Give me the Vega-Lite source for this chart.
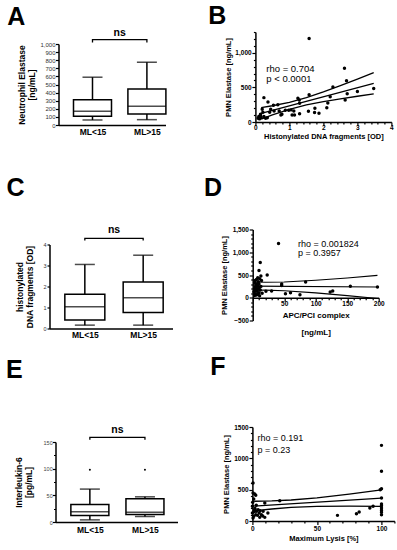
{
"$schema": "https://vega.github.io/schema/vega-lite/v6.json",
"padding": {"left": 5.5, "top": 4, "right": 2, "bottom": 2},
"background": "white",
"config": {
  "font": "Liberation Sans",
  "view": {"stroke": null},
  "axis": {"domainColor": "black", "domainWidth": 1.5, "tickColor": "black", "tickWidth": 1.2, "labelColor": "black", "titleColor": "black", "labelFont": "Liberation Sans", "titleFont": "Liberation Sans", "grid": false, "labelOverlap": false, "labelBound": false, "labelFlush": false, "tickCount": 100},
  "title": {"font": "Liberation Sans", "fontSize": 25, "fontWeight": "bold", "anchor": "start", "frame": "group", "color": "black"}
},
"datasets": {
  "boxA": [
    {"group": "ML<15", "pos": 1, "min": 62, "q1": 107, "median": 169, "q3": 313, "max": 590},
    {"group": "ML>15", "pos": 2, "min": 66, "q1": 136, "median": 230, "q3": 444, "max": 775}
  ],
  "bracketA": [
    {"pos": 1, "v": 1020, "o": 1}, {"pos": 1, "v": 1053, "o": 2}, {"pos": 2, "v": 1053, "o": 3}, {"pos": 2, "v": 1020, "o": 4}
  ],
  "boxC": [
    {"group": "ML<15", "pos": 1, "min": 0.16, "q1": 0.40, "median": 1.03, "q3": 1.63, "max": 3.05},
    {"group": "ML>15", "pos": 2, "min": 0.16, "q1": 0.76, "median": 1.46, "q3": 2.22, "max": 3.49}
  ],
  "bracketC": [
    {"pos": 1, "v": 4.19, "o": 1}, {"pos": 1, "v": 4.29, "o": 2}, {"pos": 2, "v": 4.29, "o": 3}, {"pos": 2, "v": 4.19, "o": 4}
  ],
  "boxE": [
    {"group": "ML<15", "pos": 1, "min": 4, "q1": 12, "median": 19.4, "q3": 32.7, "max": 61.7},
    {"group": "ML>15", "pos": 2, "min": 10.3, "q1": 13.9, "median": 18.1, "q3": 43.6, "max": 47.2}
  ],
  "outE": [{"pos": 1, "v": 98}, {"pos": 2, "v": 98}],
  "bracketE": [
    {"pos": 1, "v": 154, "o": 1}, {"pos": 1, "v": 158.5, "o": 2}, {"pos": 2, "v": 158.5, "o": 3}, {"pos": 2, "v": 154, "o": 4}
  ],
  "ptsB": [
    {"x": 1.58, "y": 1205}, {"x": 2.62, "y": 775}, {"x": 2.68, "y": 595}, {"x": 0.25, "y": 352}, {"x": 0.37, "y": 290},
    {"x": 1.25, "y": 343}, {"x": 1.29, "y": 318}, {"x": 1.58, "y": 395}, {"x": 2.28, "y": 505}, {"x": 2.2, "y": 365},
    {"x": 2.7, "y": 408}, {"x": 3.0, "y": 440}, {"x": 3.48, "y": 485}, {"x": 2.64, "y": 318}, {"x": 2.13, "y": 275},
    {"x": 2.1, "y": 205}, {"x": 1.75, "y": 200}, {"x": 1.87, "y": 125}, {"x": 1.74, "y": 138}, {"x": 1.56, "y": 155},
    {"x": 1.3, "y": 120}, {"x": 1.3, "y": 272}, {"x": 1.08, "y": 100}, {"x": 0.98, "y": 170}, {"x": 0.88, "y": 170},
    {"x": 0.78, "y": 112}, {"x": 0.66, "y": 250}, {"x": 0.53, "y": 243}, {"x": 0.45, "y": 185}, {"x": 0.42, "y": 140},
    {"x": 0.55, "y": 160}, {"x": 0.2, "y": 185}, {"x": 0.15, "y": 112}, {"x": 0.1, "y": 80}, {"x": 0.17, "y": 65},
    {"x": 0.12, "y": 45}, {"x": 0.25, "y": 80}, {"x": 0.08, "y": 55}, {"x": 0.3, "y": 55}, {"x": 1.13, "y": 160},
    {"x": 0.7, "y": 160}, {"x": 1.05, "y": 175}, {"x": 1.15, "y": 100}, {"x": 0.15, "y": 100}, {"x": 0.22, "y": 140},
    {"x": 0.35, "y": 60}, {"x": 0.75, "y": 100}
  ],
  "fitB": [
    {"curve": "upper", "x": 0.17, "y": 207}, {"curve": "upper", "x": 0.5, "y": 234.8}, {"curve": "upper", "x": 1.0, "y": 284.9}, {"curve": "upper", "x": 1.5, "y": 352.5}, {"curve": "upper", "x": 2.0, "y": 436.0}, {"curve": "upper", "x": 2.5, "y": 526.9}, {"curve": "upper", "x": 3.0, "y": 620.8}, {"curve": "upper", "x": 3.48, "y": 712.3},
    {"curve": "fit", "x": 0.17, "y": 125}, {"curve": "fit", "x": 3.48, "y": 559.3},
    {"curve": "lower", "x": 0.17, "y": 43}, {"curve": "lower", "x": 0.5, "y": 101.8}, {"curve": "lower", "x": 1.0, "y": 182.9}, {"curve": "lower", "x": 1.5, "y": 246.5}, {"curve": "lower", "x": 2.0, "y": 294.2}, {"curve": "lower", "x": 2.5, "y": 334.5}, {"curve": "lower", "x": 3.0, "y": 371.8}, {"curve": "lower", "x": 3.48, "y": 406.3}
  ],
  "ptsD": [
    {"x": 2, "y": 130}, {"x": 3, "y": 50}, {"x": 3, "y": 200}, {"x": 3, "y": 330}, {"x": 4, "y": 90}, {"x": 4, "y": 240}, {"x": 4, "y": 380},
    {"x": 5, "y": 160}, {"x": 5, "y": 290}, {"x": 6, "y": 60}, {"x": 6, "y": 210}, {"x": 6, "y": 400}, {"x": 7, "y": 140}, {"x": 7, "y": 310},
    {"x": 8, "y": 75}, {"x": 8, "y": 260}, {"x": 8, "y": 440}, {"x": 9, "y": 190}, {"x": 9, "y": 350}, {"x": 10, "y": 110}, {"x": 10, "y": 300},
    {"x": 10, "y": 600}, {"x": 11, "y": 45}, {"x": 11, "y": 230}, {"x": 11, "y": 420}, {"x": 12, "y": 170}, {"x": 12, "y": 775}, {"x": 13, "y": 250},
    {"x": 13, "y": 480}, {"x": 14, "y": 380}, {"x": 15, "y": 100}, {"x": 23, "y": 500}, {"x": 41, "y": 1190}, {"x": 21, "y": 145}, {"x": 30, "y": 150},
    {"x": 46, "y": 304}, {"x": 46, "y": 270}, {"x": 84, "y": 348}, {"x": 52, "y": 87}, {"x": 60, "y": 109}, {"x": 75, "y": 65}, {"x": 123, "y": 125},
    {"x": 127, "y": 148}, {"x": 155, "y": 255}, {"x": 198, "y": 237}
  ],
  "fitD": [
    {"curve": "upper", "x": 2, "y": 344.8}, {"curve": "upper", "x": 20, "y": 339.9}, {"curve": "upper", "x": 50, "y": 346.1}, {"curve": "upper", "x": 100, "y": 384.3}, {"curve": "upper", "x": 150, "y": 435.5}, {"curve": "upper", "x": 198, "y": 492.2},
    {"curve": "fit", "x": 2, "y": 254.8}, {"curve": "fit", "x": 198, "y": 237.2},
    {"curve": "lower", "x": 2, "y": 164.8}, {"curve": "lower", "x": 20, "y": 166.5}, {"curve": "lower", "x": 50, "y": 154.9}, {"curve": "lower", "x": 100, "y": 107.7}, {"curve": "lower", "x": 150, "y": 47.5}, {"curve": "lower", "x": 198, "y": -17.8}
  ],
  "ptsF": [
    {"x": 100, "y": 1207}, {"x": 100, "y": 793}, {"x": 100, "y": 516}, {"x": 99, "y": 500}, {"x": 100, "y": 367}, {"x": 100, "y": 271}, {"x": 100, "y": 245},
    {"x": 100, "y": 207}, {"x": 100, "y": 170}, {"x": 100, "y": 138}, {"x": 100, "y": 101}, {"x": 93.5, "y": 234}, {"x": 91, "y": 207}, {"x": 82.7, "y": 144},
    {"x": 80.6, "y": 117}, {"x": 65.9, "y": 90}, {"x": 21.2, "y": 324}, {"x": 9.6, "y": 287}, {"x": 0.5, "y": 606}, {"x": 1, "y": 351}, {"x": 0.5, "y": 447},
    {"x": 1.8, "y": 431}, {"x": 2.6, "y": 410}, {"x": 0, "y": 234}, {"x": 1.8, "y": 181}, {"x": 3.1, "y": 154}, {"x": 4.4, "y": 181}, {"x": 5.2, "y": 128},
    {"x": 7, "y": 101}, {"x": 8.3, "y": 154}, {"x": 9.6, "y": 58}, {"x": 5.7, "y": 58}, {"x": 2.6, "y": 101}, {"x": 1, "y": 74}, {"x": 12, "y": 128},
    {"x": 0.5, "y": 48}, {"x": 0, "y": 128}, {"x": 3, "y": 250}, {"x": 0.3, "y": 300}, {"x": 2, "y": 200}, {"x": 6, "y": 165}, {"x": 4, "y": 90},
    {"x": 8, "y": 80}, {"x": 1.5, "y": 150}
  ],
  "fitF": [
    {"curve": "upper", "x": 0, "y": 315}, {"curve": "upper", "x": 15, "y": 320.8}, {"curve": "upper", "x": 30, "y": 334.8}, {"curve": "upper", "x": 50, "y": 369.3}, {"curve": "upper", "x": 75, "y": 429.3}, {"curve": "upper", "x": 100, "y": 497},
    {"curve": "fit", "x": 0, "y": 237}, {"curve": "fit", "x": 100, "y": 365},
    {"curve": "lower", "x": 0, "y": 159}, {"curve": "lower", "x": 15, "y": 191.6}, {"curve": "lower", "x": 30, "y": 216}, {"curve": "lower", "x": 50, "y": 232.7}, {"curve": "lower", "x": 75, "y": 236.7}, {"curve": "lower", "x": 100, "y": 233}
  ]
},
"vconcat": [
  {"vconcat": [
    {"hconcat": [
      {
        "title": {"text": "A", "dx": -42.3, "offset": -2.25},
        "width": 116, "height": 93,
        "layer": [
          {"data": {"name": "boxA"}, "mark": {"type": "rule", "strokeWidth": 1.5, "color": "black"},
           "encoding": {
             "x": {"field": "pos", "type": "quantitative", "scale": {"domain": [0.467, 2.25], "range": [9, 116], "nice": false, "zero": false},
                   "axis": {"values": [1, 2], "tickCount": 100, "labelExpr": "datum.value == 1 ? 'ML<15' : 'ML>15'", "ticks": false, "labelFontSize": 8.5, "labelFontWeight": "bold", "labelPadding": 2.5, "labelOverlap": false, "title": null}},
             "y": {"field": "min", "type": "quantitative", "scale": {"domain": [0, 1000], "range": [93, 12], "nice": false, "zero": false},
                   "axis": {"offset": -9, "values": [0, 100, 200, 300, 400, 500, 600, 700, 800, 900, 1000], "tickCount": 100, "format": ",d", "labelFontSize": 6, "labelColor": "#333", "tickSize": 3, "labelPadding": 0.5, "labelOverlap": false, "title": ["Neutrophil Elastase", "[ng/mL]"], "titleFontSize": 8.5, "titleFontWeight": "bold", "titlePadding": 3, "titleLineHeight": 10.5}},
             "y2": {"field": "max"}}},
          {"data": {"name": "boxA"}, "mark": {"type": "tick", "orient": "horizontal", "size": 20, "thickness": 1.5, "color": "black"},
           "encoding": {"x": {"field": "pos", "type": "quantitative"}, "y": {"field": "min", "type": "quantitative"}}},
          {"data": {"name": "boxA"}, "mark": {"type": "tick", "orient": "horizontal", "size": 20, "thickness": 1.5, "color": "black"},
           "encoding": {"x": {"field": "pos", "type": "quantitative"}, "y": {"field": "max", "type": "quantitative"}}},
          {"data": {"name": "boxA"}, "mark": {"type": "bar", "orient": "vertical", "width": 38, "fill": "white", "stroke": "black", "strokeWidth": 1.5},
           "encoding": {"x": {"field": "pos", "type": "quantitative"}, "y": {"field": "q1", "type": "quantitative"}, "y2": {"field": "q3"}}},
          {"data": {"name": "boxA"}, "mark": {"type": "tick", "orient": "horizontal", "size": 38, "thickness": 1.5, "color": "black"},
           "encoding": {"x": {"field": "pos", "type": "quantitative"}, "y": {"field": "median", "type": "quantitative"}}},
          {"data": {"name": "bracketA"}, "mark": {"type": "line", "color": "black", "strokeWidth": 1.3},
           "encoding": {"x": {"field": "pos", "type": "quantitative"}, "y": {"field": "v", "type": "quantitative"}, "order": {"field": "o"}}},
          {"data": {"values": [{"pos": 1.5, "v": 1140, "label": "ns"}]}, "mark": {"type": "text", "fontSize": 10.5, "fontWeight": "bold", "baseline": "middle"},
           "encoding": {"x": {"field": "pos", "type": "quantitative"}, "y": {"field": "v", "type": "quantitative"}, "text": {"field": "label"}}}
        ]
      },
      {
        "title": {"text": "B", "dx": -47.1, "offset": -0.25},
        "width": 136, "height": 90,
        "layer": [
          {"data": {"name": "ptsB"}, "mark": {"type": "circle", "size": 12, "color": "black", "opacity": 1},
           "encoding": {
             "x": {"field": "x", "type": "quantitative", "scale": {"domain": [0, 4], "nice": false, "zero": false},
                   "axis": {"values": [0, 0.2, 0.4, 0.6, 0.8, 1, 1.2, 1.4, 1.6, 1.8, 2, 2.2, 2.4, 2.6, 2.8, 3, 3.2, 3.4, 3.6, 3.8, 4], "tickCount": 100, "labelExpr": "datum.value % 1 == 0 ? format(datum.value, 'd') : ''", "tickSize": {"condition": {"test": "datum.value % 1 == 0", "value": 3.5}, "value": 2}, "labelFontSize": 6.5, "labelFontWeight": "bold", "labelPadding": -1.5, "labelOverlap": false, "title": "Histonylated DNA fragments [OD]", "titleFontSize": 7.5, "titleFontWeight": "bold", "titlePadding": 1.75}},
             "y": {"field": "y", "type": "quantitative", "scale": {"domain": [0, 1300], "nice": false, "zero": false},
                   "axis": {"values": [0, 100, 200, 300, 400, 500, 600, 700, 800, 900, 1000, 1100, 1200, 1300], "tickCount": 100, "labelExpr": "datum.value % 500 == 0 ? format(datum.value, ',d') : ''", "tickSize": {"condition": {"test": "datum.value % 500 == 0", "value": 3.5}, "value": 2}, "labelFontSize": 6.5, "labelFontWeight": "bold", "labelPadding": 0.75, "labelOverlap": false, "title": "PMN Elastase [ng/mL]", "titleFontSize": 7.5, "titleFontWeight": "bold", "titlePadding": 2}}}},
          {"data": {"name": "fitB"}, "mark": {"type": "line", "color": "black", "strokeWidth": 1.3},
           "encoding": {"x": {"field": "x", "type": "quantitative"}, "y": {"field": "y", "type": "quantitative"}, "detail": {"field": "curve"}}},
          {"data": {"values": [{"x": 0.32, "y": 770, "label": "rho = 0.704"}, {"x": 0.32, "y": 623, "label": "p < 0.0001"}]},
           "mark": {"type": "text", "align": "left", "baseline": "middle", "fontSize": 9.5},
           "encoding": {"x": {"field": "x", "type": "quantitative"}, "y": {"field": "y", "type": "quantitative"}, "text": {"field": "label"}}}
        ]
      }
    ], "spacing": 39.9},
    {"hconcat": [
      {
        "title": {"text": "C", "dx": -42.9, "offset": 24.5},
        "width": 123, "height": 99,
        "layer": [
          {"data": {"name": "boxC"}, "mark": {"type": "rule", "strokeWidth": 1.5, "color": "black"},
           "encoding": {
             "x": {"field": "pos", "type": "quantitative", "scale": {"domain": [0.48, 2.417], "nice": false, "zero": false},
                   "axis": {"values": [1, 2], "tickCount": 100, "labelExpr": "datum.value == 1 ? 'ML<15' : 'ML>15'", "ticks": false, "labelFontSize": 8.5, "labelFontWeight": "bold", "labelPadding": 1.5, "labelOverlap": false, "title": null}},
             "y": {"field": "min", "type": "quantitative", "scale": {"domain": [0, 4], "range": [99, 15], "nice": false, "zero": false},
                   "axis": {"values": [0, 1, 2, 3, 4], "tickCount": 100, "format": "d", "labelFontSize": 5.5, "labelColor": "#333", "tickSize": 2.5, "labelPadding": 1, "labelOverlap": false, "title": ["histonylated", "DNA fragments [OD]"], "titleFontSize": 8.5, "titleFontWeight": "bold", "titlePadding": 8, "titleLineHeight": 10}},
             "y2": {"field": "max"}}},
          {"data": {"name": "boxC"}, "mark": {"type": "tick", "orient": "horizontal", "size": 20, "thickness": 1.5, "color": "black"},
           "encoding": {"x": {"field": "pos", "type": "quantitative"}, "y": {"field": "min", "type": "quantitative"}}},
          {"data": {"name": "boxC"}, "mark": {"type": "tick", "orient": "horizontal", "size": 20, "thickness": 1.5, "color": "black"},
           "encoding": {"x": {"field": "pos", "type": "quantitative"}, "y": {"field": "max", "type": "quantitative"}}},
          {"data": {"name": "boxC"}, "mark": {"type": "bar", "orient": "vertical", "width": 40, "fill": "white", "stroke": "black", "strokeWidth": 1.5},
           "encoding": {"x": {"field": "pos", "type": "quantitative"}, "y": {"field": "q1", "type": "quantitative"}, "y2": {"field": "q3"}}},
          {"data": {"name": "boxC"}, "mark": {"type": "tick", "orient": "horizontal", "size": 40, "thickness": 1.5, "color": "black"},
           "encoding": {"x": {"field": "pos", "type": "quantitative"}, "y": {"field": "median", "type": "quantitative"}}},
          {"data": {"name": "bracketC"}, "mark": {"type": "line", "color": "black", "strokeWidth": 1.3},
           "encoding": {"x": {"field": "pos", "type": "quantitative"}, "y": {"field": "v", "type": "quantitative"}, "order": {"field": "o"}}},
          {"data": {"values": [{"pos": 1.5, "v": 4.68, "label": "ns"}]}, "mark": {"type": "text", "fontSize": 10.5, "fontWeight": "bold", "baseline": "middle"},
           "encoding": {"x": {"field": "pos", "type": "quantitative"}, "y": {"field": "v", "type": "quantitative"}, "text": {"field": "label"}}}
        ]
      },
      {
        "title": {"text": "D", "dx": -48.8, "offset": 25.75},
        "width": 126, "height": 91,
        "layer": [
          {"data": {"name": "ptsD"}, "mark": {"type": "circle", "size": 12, "color": "black", "opacity": 1},
           "encoding": {
             "x": {"field": "x", "type": "quantitative", "scale": {"domain": [0, 200], "nice": false, "zero": false},
                   "axis": {"offset": -22.75, "values": [0, 10, 20, 30, 40, 50, 60, 70, 80, 90, 100, 110, 120, 130, 140, 150, 160, 170, 180, 190, 200], "tickCount": 100, "labelExpr": "datum.value % 50 == 0 && datum.value > 0 ? format(datum.value, 'd') : ''", "tickSize": {"condition": {"test": "datum.value % 50 == 0", "value": 3.5}, "value": 2}, "labelFontSize": 6.5, "labelFontWeight": "bold", "labelPadding": -0.35, "labelOverlap": false, "title": ["APC/PCI complex", "[ng/mL]"], "titleFontSize": 8, "titleFontWeight": "bold", "titlePadding": 3.8, "titleLineHeight": 17.8}},
             "y": {"field": "y", "type": "quantitative", "scale": {"domain": [-500, 1500], "nice": false, "zero": false},
                   "axis": {"values": [-500, -400, -300, -200, -100, 0, 100, 200, 300, 400, 500, 600, 700, 800, 900, 1000, 1100, 1200, 1300, 1400, 1500], "tickCount": 100, "labelExpr": "datum.value % 500 == 0 ? format(datum.value, ',d') : ''", "tickSize": {"condition": {"test": "datum.value % 500 == 0", "value": 3.5}, "value": 2}, "labelFontSize": 6.5, "labelFontWeight": "bold", "labelPadding": 0.75, "labelOverlap": false, "title": "PMN Elastase [ng/mL]", "titleFontSize": 7.5, "titleFontWeight": "bold", "titlePadding": 3.3}}}},
          {"data": {"name": "fitD"}, "mark": {"type": "line", "color": "black", "strokeWidth": 1.1},
           "encoding": {"x": {"field": "x", "type": "quantitative"}, "y": {"field": "y", "type": "quantitative"}, "detail": {"field": "curve"}}},
          {"data": {"values": [{"x": 72, "y": 1188, "label": "rho = 0.001824"}, {"x": 72, "y": 993, "label": "p = 0.3957"}]},
           "mark": {"type": "text", "align": "left", "baseline": "middle", "fontSize": 9},
           "encoding": {"x": {"field": "x", "type": "quantitative"}, "y": {"field": "y", "type": "quantitative"}, "text": {"field": "label"}}}
        ]
      }
    ], "spacing": 31.2}
  ], "spacing": 35.5},
  {"hconcat": [
    {
      "title": {"text": "E", "dx": -43.5, "offset": 42.75},
      "width": 128, "height": 95,
      "layer": [
        {"data": {"name": "boxE"}, "mark": {"type": "rule", "strokeWidth": 1.5, "color": "black"},
         "encoding": {
           "x": {"field": "pos", "type": "quantitative", "scale": {"domain": [0.467, 2.5], "range": [6, 128], "nice": false, "zero": false},
                 "axis": {"values": [1, 2], "tickCount": 100, "labelExpr": "datum.value == 1 ? 'ML<15' : 'ML>15'", "ticks": false, "labelFontSize": 8.5, "labelFontWeight": "bold", "labelPadding": 3.5, "labelOverlap": false, "title": null}},
           "y": {"field": "min", "type": "quantitative", "scale": {"domain": [0, 150], "range": [95, 15], "nice": false, "zero": false},
                 "axis": {"offset": -6, "values": [0, 25, 50, 75, 100, 125, 150], "tickCount": 100, "labelExpr": "datum.value % 50 == 0 ? format(datum.value, 'd') : ''", "tickSize": {"condition": {"test": "datum.value % 50 == 0", "value": 3}, "value": 2}, "labelFontSize": 5.5, "labelColor": "#444", "labelPadding": 0.3, "labelOverlap": false, "title": ["Interleukin-6", "[pg/mL]"], "titleFontSize": 8.5, "titleFontWeight": "bold", "titlePadding": 9.5, "titleLineHeight": 10}},
           "y2": {"field": "max"}}},
        {"data": {"name": "boxE"}, "mark": {"type": "tick", "orient": "horizontal", "size": 20, "thickness": 1.5, "color": "black"},
         "encoding": {"x": {"field": "pos", "type": "quantitative"}, "y": {"field": "min", "type": "quantitative"}}},
        {"data": {"name": "boxE"}, "mark": {"type": "tick", "orient": "horizontal", "size": 20, "thickness": 1.5, "color": "black"},
         "encoding": {"x": {"field": "pos", "type": "quantitative"}, "y": {"field": "max", "type": "quantitative"}}},
        {"data": {"name": "boxE"}, "mark": {"type": "bar", "orient": "vertical", "width": 38, "fill": "white", "stroke": "black", "strokeWidth": 1.5},
         "encoding": {"x": {"field": "pos", "type": "quantitative"}, "y": {"field": "q1", "type": "quantitative"}, "y2": {"field": "q3"}}},
        {"data": {"name": "boxE"}, "mark": {"type": "tick", "orient": "horizontal", "size": 38, "thickness": 1.5, "color": "black"},
         "encoding": {"x": {"field": "pos", "type": "quantitative"}, "y": {"field": "median", "type": "quantitative"}}},
        {"data": {"name": "outE"}, "mark": {"type": "circle", "size": 4, "color": "black", "opacity": 1},
         "encoding": {"x": {"field": "pos", "type": "quantitative"}, "y": {"field": "v", "type": "quantitative"}}},
        {"data": {"name": "bracketE"}, "mark": {"type": "line", "color": "black", "strokeWidth": 1.3},
         "encoding": {"x": {"field": "pos", "type": "quantitative"}, "y": {"field": "v", "type": "quantitative"}, "order": {"field": "o"}}},
        {"data": {"values": [{"pos": 1.5, "v": 172, "label": "ns"}]}, "mark": {"type": "text", "fontSize": 10.5, "fontWeight": "bold", "baseline": "middle"},
         "encoding": {"x": {"field": "pos", "type": "quantitative"}, "y": {"field": "v", "type": "quantitative"}, "text": {"field": "label"}}}
      ]
    },
    {
      "title": {"text": "F", "dx": -42.1, "offset": 43.75},
      "width": 142, "height": 94,
      "layer": [
        {"data": {"name": "ptsF"}, "mark": {"type": "circle", "size": 12, "color": "black", "opacity": 1},
         "encoding": {
           "x": {"field": "x", "type": "quantitative", "scale": {"domain": [0, 110], "nice": false, "zero": false},
                 "axis": {"values": [0, 10, 20, 30, 40, 50, 60, 70, 80, 90, 100, 110], "tickCount": 100, "labelExpr": "datum.value % 50 == 0 ? format(datum.value, 'd') : ''", "tickSize": {"condition": {"test": "datum.value % 50 == 0", "value": 3.5}, "value": 2}, "labelFontSize": 6.5, "labelFontWeight": "bold", "labelPadding": 1.25, "labelOverlap": false, "title": "Maximum Lysis [%]", "titleFontSize": 7.5, "titleFontWeight": "bold", "titlePadding": 2.6}},
           "y": {"field": "y", "type": "quantitative", "scale": {"domain": [0, 1500], "nice": false, "zero": false},
                 "axis": {"values": [0, 100, 200, 300, 400, 500, 600, 700, 800, 900, 1000, 1100, 1200, 1300, 1400, 1500], "tickCount": 100, "labelExpr": "datum.value % 500 == 0 ? format(datum.value, 'd') : ''", "tickSize": {"condition": {"test": "datum.value % 500 == 0", "value": 3.5}, "value": 2}, "labelFontSize": 6.5, "labelFontWeight": "bold", "labelPadding": 0.75, "labelOverlap": false, "title": "PMN Elastase [ng/mL]", "titleFontSize": 7.5, "titleFontWeight": "bold", "titlePadding": 3}}}},
        {"data": {"name": "fitF"}, "mark": {"type": "line", "color": "black", "strokeWidth": 1.3},
         "encoding": {"x": {"field": "x", "type": "quantitative"}, "y": {"field": "y", "type": "quantitative"}, "detail": {"field": "curve"}}},
        {"data": {"values": [{"x": 3.9, "y": 1324, "label": "rho = 0.191"}, {"x": 3.9, "y": 1132, "label": "p = 0.23"}]},
         "mark": {"type": "text", "align": "left", "baseline": "middle", "fontSize": 9},
         "encoding": {"x": {"field": "x", "type": "quantitative"}, "y": {"field": "y", "type": "quantitative"}, "text": {"field": "label"}}}
      ]
    }
  ], "spacing": 31.9}
],
"spacing": 16
}
